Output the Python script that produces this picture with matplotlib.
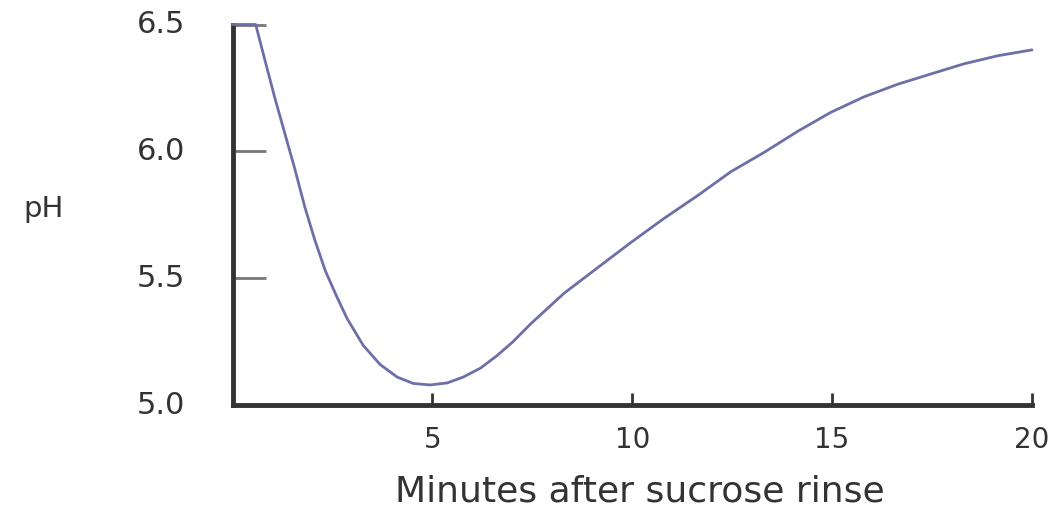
import matplotlib
matplotlib.use("Agg")
import matplotlib.pyplot as plt

# Data
minutes = [0.0, 0.58, 0.81, 1.06, 1.31, 1.56, 1.81, 2.06, 2.32, 2.6, 2.87, 3.27,
           3.69, 4.12, 4.52, 4.94, 5.37, 5.77, 6.20, 6.62, 7.02, 7.46, 8.29,
           9.14, 9.96, 10.79, 11.64, 12.47, 13.3, 14.15, 14.97, 15.8, 16.65,
           17.47, 18.3, 19.15, 20.0]
ph = [6.5, 6.5, 6.36, 6.21, 6.07, 5.93, 5.78, 5.65, 5.53, 5.43, 5.34, 5.235,
      5.16, 5.11, 5.085, 5.079, 5.087, 5.11, 5.145, 5.195, 5.25, 5.32, 5.44,
      5.542, 5.64, 5.735, 5.826, 5.92, 5.996, 6.08, 6.154, 6.215, 6.265,
      6.305, 6.345, 6.377, 6.40]
x_ticks = [5, 10, 15, 20]
x_tick_labels = ["5", "10", "15", "20"]
y_ticks = [5.0, 5.5, 6.0, 6.5]
y_tick_labels = ["5.0", "5.5", "6.0", "6.5"]

W, H = 1059, 508
fig = plt.figure(figsize=(W / 100, H / 100), dpi=100)
ax = fig.add_axes([232.5 / W, (H - 405) / H, (1032 - 232.5) / W, (405 - 24.5) / H])

ax.plot(minutes, ph, color="#6f6fa8", lw=2.0, solid_joinstyle="round",
        solid_capstyle="round", clip_on=False, zorder=3)

ax.set_xlim(0, 20)
ax.set_ylim(5.0, 6.5)

for s in ["top", "right"]:
    ax.spines[s].set_visible(False)
for s in ["left", "bottom"]:
    ax.spines[s].set_linewidth(3.5)
    ax.spines[s].set_color("#333333")
    ax.spines[s].set_capstyle("projecting")

txt_color = "#333333"
fam = ["DejaVu Sans"]

ax.set_xticks(x_ticks)
ax.set_xticklabels(x_tick_labels, fontsize=20, color=txt_color, family=fam)
ax.tick_params(axis="x", direction="in", length=9, width=2, color="#333333", pad=15)

ax.set_yticks(y_ticks)
ax.set_yticklabels(y_tick_labels, fontsize=22, color=txt_color, family=fam)
ax.tick_params(axis="y", direction="in", length=24, width=2, color="#777777", pad=34)
for lab in ax.get_yticklabels():
    lab.set_verticalalignment("center")

fig.text(44 / W, 1 - 209 / H, "pH", fontsize=21, color=txt_color, family=fam,
         ha="center", va="center")
fig.text(640 / W, 1 - 492 / H, "Minutes after sucrose rinse", fontsize=26,
         color=txt_color, family=fam, ha="center", va="center")

fig.savefig("out.png", dpi=100)
